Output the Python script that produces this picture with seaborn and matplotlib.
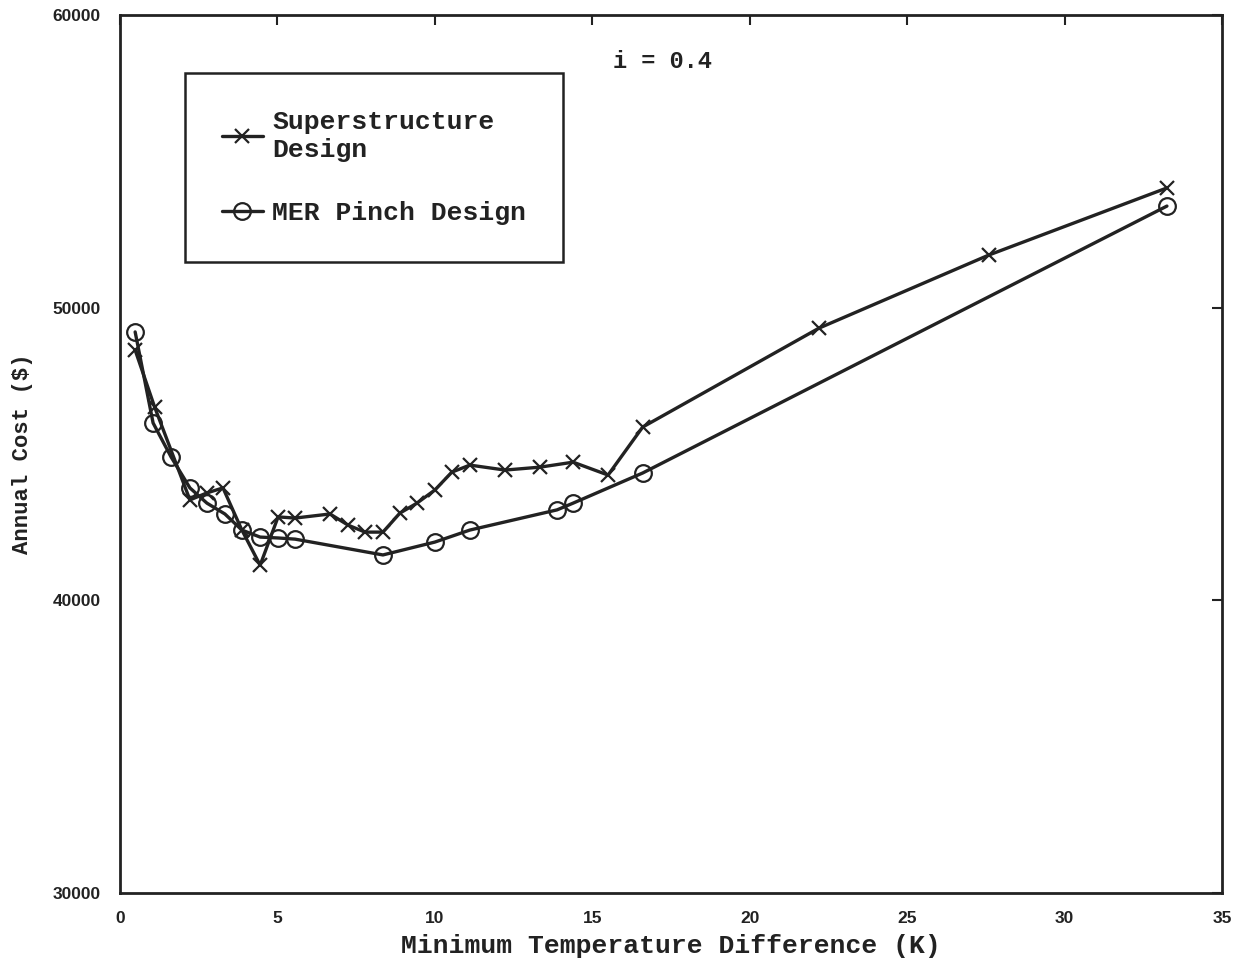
import matplotlib
matplotlib.use("Agg")
import matplotlib.pyplot as plt
import seaborn as sns
import pandas as pd

# Superstructure design
ss_x = [0.48, 1.1, 2.22, 2.76, 3.27, 3.87, 4.45, 5.02, 5.56, 6.67, 7.24, 7.78, 8.35,
        8.89, 9.43, 10.0, 10.54, 11.11, 12.23, 13.34, 14.39, 15.5, 16.6, 22.2, 27.6, 33.25]
ss_y = [48550, 46600, 43430, 43670, 43840, 42400, 41200, 42850, 42810, 42950, 42570, 42330, 42330,
        42980, 43320, 43770, 44380, 44620, 44450, 44550, 44720, 44280, 45920, 49300, 51800, 54090]

# MER pinch design
mer_x = [0.48, 1.05, 1.62, 2.22, 2.76, 3.33, 3.87, 4.45, 5.02, 5.56, 8.35, 10.0, 11.11,
         13.88, 14.39, 16.6, 33.25]
mer_y = [49170, 46060, 44900, 43840, 43320, 42950, 42400, 42160, 42130, 42090, 41550, 41990, 42400,
         43090, 43320, 44350, 53470]

x_ticks = [0, 5, 10, 15, 20, 25, 30, 35]
y_ticks = [30000, 40000, 50000, 60000]

sns.set_theme(style="white")
plt.rcParams['font.family'] = ['Liberation Mono', 'DejaVu Sans Mono']

INK = "#222222"

fig = plt.figure(figsize=(12.4, 9.66), dpi=100)
ax = fig.add_axes([0.0968, 0.0756, 0.8887, 0.9089])

df_ss = pd.DataFrame({"x": ss_x, "y": ss_y})
df_mer = pd.DataFrame({"x": mer_x, "y": mer_y})

sns.lineplot(data=df_ss, x="x", y="y", ax=ax, color=INK, lw=2.4, sort=False,
             marker="x", markersize=10, markeredgewidth=1.6, markeredgecolor=INK,
             label="Superstructure\nDesign")
sns.lineplot(data=df_mer, x="x", y="y", ax=ax, color=INK, lw=2.4, sort=False,
             marker="o", markersize=12, markerfacecolor="none", markeredgewidth=1.6,
             markeredgecolor=INK, label="MER Pinch Design")

ax.set_xlim(0, 35)
ax.set_ylim(30000, 60000)
ax.set_xticks(x_ticks)
ax.set_yticks(y_ticks)
ax.set_xticklabels([str(t) for t in x_ticks], fontfamily="Liberation Sans", fontweight="bold", fontsize=12.5)
ax.set_yticklabels([str(t) for t in y_ticks], fontfamily="Liberation Sans", fontweight="bold", fontsize=12.5)
ax.tick_params(axis="x", direction="in", length=7, width=1.5, top=True, colors=INK,
               labelcolor=INK, pad=13)
ax.tick_params(axis="y", direction="in", length=7, width=1.5, right=True, colors=INK,
               labelcolor=INK, pad=14)

for s in ax.spines.values():
    s.set_color(INK)
    s.set_linewidth(2)

ax.set_xlabel("Minimum Temperature Difference (K)", fontsize=19, fontweight="bold",
              color=INK, labelpad=6)
ax.set_ylabel("Annual Cost ($)", fontsize=16, fontweight="bold", color=INK, labelpad=14)

ax.text(0.492, 0.947, "i = 0.4", transform=ax.transAxes, fontsize=17, fontweight="bold",
        ha="center", va="center", color=INK)

leg = ax.legend(loc="upper left", bbox_to_anchor=(0.059, 0.934),
                prop={"family": "Liberation Mono", "weight": "bold", "size": 19},
                frameon=True, fancybox=False, framealpha=1, edgecolor=INK, handlelength=1.55,
                borderpad=1.4, labelspacing=1.5, handletextpad=0.35, borderaxespad=0)
leg.get_frame().set_linewidth(1.8)
for t in leg.get_texts():
    t.set_color(INK)

fig.savefig("out.png", dpi=100, facecolor="white")
